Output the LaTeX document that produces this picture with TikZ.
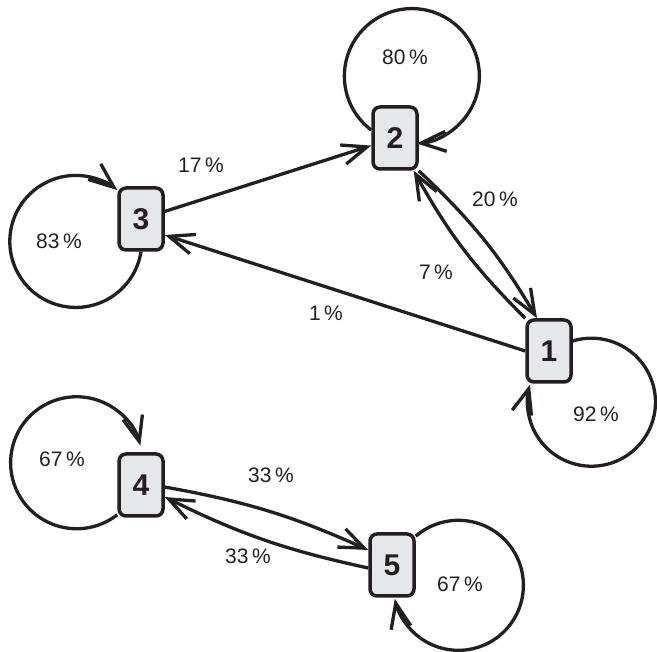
\documentclass[tikz,border=0pt]{standalone}
\usepackage{fontspec}
\setmainfont{Liberation Sans}
\usepackage{xcolor}
\usepackage{tikz}
\usetikzlibrary{arrows.meta,bending}
\definecolor{ink}{HTML}{231F20}
\definecolor{boxgray}{HTML}{E6E7E8}
\tikzstyle{state}=[rectangle, draw=ink, rounded corners=7pt, fill=boxgray, line width=3.5pt,
        minimum width=44pt, minimum height=62pt, inner sep=0pt, text=ink,
        font=\fontsize{30}{32}\selectfont\bfseries]
\tikzstyle{link}=[draw=ink, line width=3.3pt, -{Straight Barb[length=25pt,width=20pt,quick]}]
\tikzstyle{rate}=[text=ink, inner sep=0pt, font=\fontsize{21}{24}\selectfont]

\begin{document}
\begin{tikzpicture}[x=1pt, y=1pt]
        \useasboundingbox (0,0) rectangle (657,-652);
        \node (one) [state] at (549,-351) {1};
        \node (two) [state] at (395,-138) {2};
        \node (three) [state] at (141,-219) {3};
        \node (four) [state] at (141,-485) {4};
        \node (five) [state] at (392,-565) {5};

        \draw[link] (three) -- (two);
        \draw[link] (one.west) -- ([yshift=-16pt]three.east);
        \draw[link] (two.south east) to[bend left=8] ([xshift=-12pt]one.north);
        \draw[link] (one.north west) to[bend left=8] ([xshift=-5pt]two.south east);
        \draw[link] ([yshift=-2pt]four.east) to[bend left=7] ([yshift=15pt]five.west);
        \draw[link] ([yshift=-3pt]five.west) to[bend left=7] ([yshift=-12pt]four.east);

        \draw[link] ([yshift=8pt]two.west) arc[start angle=233, end angle=-86, radius=67.5pt];
        \draw[link] (three.south) arc[start angle=-9, end angle=-309, radius=66pt];
        \draw[link] ([yshift=10pt]one.east) arc[start angle=107, end angle=-196, radius=64pt];
        \draw[link] ([yshift=3pt]four.south west) arc[start angle=-52, end angle=-345, radius=66pt];
        \draw[link] ([yshift=-4pt]five.north east) arc[start angle=131, end angle=-168, radius=65pt];

        \node (p11) [rate] at (596,-414) {92\,\%};
        \node (p12) [rate] at (436,-272) {7\,\%};
        \node (p13) [rate] at (326,-313) {1\,\%};
        \node (p21) [rate] at (495,-199) {20\,\%};
        \node (p22) [rate] at (405,-57) {80\,\%};
        \node (p32) [rate] at (201,-165) {17\,\%};
        \node (p33) [rate] at (59,-241) {83\,\%};
        \node (p44) [rate] at (62,-459) {67\,\%};
        \node (p45) [rate] at (271,-475) {33\,\%};
        \node (p54) [rate] at (248,-556) {33\,\%};
        \node (p55) [rate] at (460,-584) {67\,\%};
\end{tikzpicture}
\end{document}
